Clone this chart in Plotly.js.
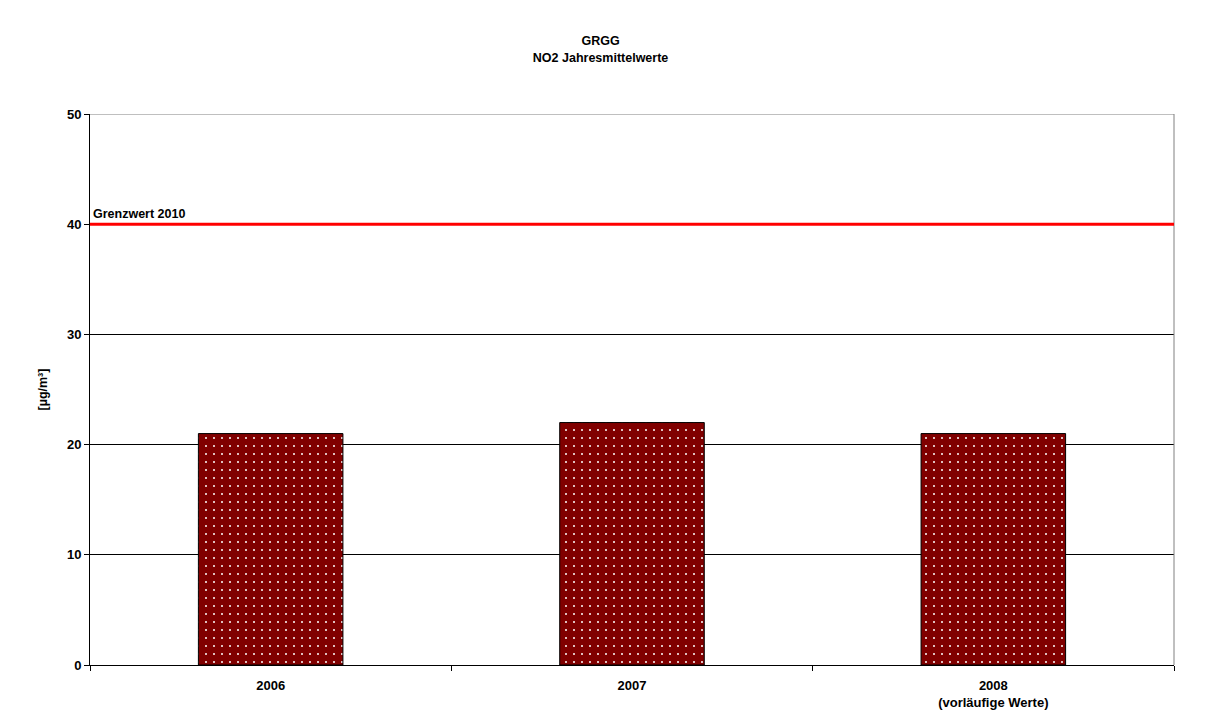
<!DOCTYPE html>
<html>
<head>
<meta charset="utf-8">
<script src="https://cdn.plot.ly/plotly-3.0.1.min.js"></script>
<style>html,body{margin:0;padding:0;background:#fff;}#chart{width:1210px;height:722px;}</style>
</head>
<body>
<div id="chart"></div>
<script>
const categories = ["2006", "2007", "2008<br>(vorläufige Werte)"];
const no2Values = [21, 22, 21];
const limitValue = 40;
const limitLabel = "Grenzwert 2010";
const yTicks = [0, 10, 20, 30, 40, 50];
const titleLines = ["GRGG", "NO2 Jahresmittelwerte"];
const yTitle = "[µg/m³]";

const fontFam = "Liberation Sans, Arial, sans-serif";

const data = [{
  type: "bar",
  x: categories,
  y: no2Values,
  width: 0.4,
  marker: {
    color: "#800000",
    line: {color: "#000", width: 1},
    pattern: {shape: ".", fgcolor: "#ffffff", bgcolor: "#800000", size: 8, solidity: 0.05}
  },
  hoverinfo: "none"
}];

const layout = {
  width: 1210, height: 722,
  margin: {l: 90, r: 36, t: 114, b: 57},
  paper_bgcolor: "#fff", plot_bgcolor: "#fff",
  showlegend: false,
  font: {family: fontFam, color: "#000", size: 13},
  title: {
    text: "<b>" + titleLines.join("<br>") + "</b>",
    x: 0.471, xref: "paper", xanchor: "center", y: 0.937, yanchor: "top",
    font: {family: fontFam, size: 12.5, color: "#000"}
  },
  xaxis: {
    type: "category",
    tickson: "boundaries",
    ticks: "outside", ticklen: 5, tickcolor: "#000",
    showline: true, linecolor: "#000", linewidth: 1,
    showgrid: false, zeroline: false,
    tickfont: {family: fontFam, size: 13, color: "#000", weight: "bold"},
    ticklabelstandoff: 8,
    range: [-0.5, 2.5]
  },
  yaxis: {
    range: [0, 50],
    tickvals: yTicks,
    ticks: "outside", ticklen: 5, tickcolor: "#000",
    showline: true, linecolor: "#000", linewidth: 1,
    showgrid: true, gridcolor: "#000", gridwidth: 1,
    zeroline: false,
    tickfont: {family: fontFam, size: 13, color: "#000", weight: "bold"},
    title: {text: "<b>" + yTitle + "</b>", font: {family: fontFam, size: 12.5, color: "#000"}, standoff: 16}
  },
  shapes: [
    {type: "line", xref: "paper", yref: "y", x0: 0, x1: 1, y0: 50, y1: 50, line: {color: "#808080", width: 1}},
    {type: "line", xref: "paper", yref: "paper", x0: 1, x1: 1, y0: 0, y1: 1, line: {color: "#808080", width: 1}},
    {type: "line", xref: "paper", yref: "y", x0: 0, x1: 1, y0: limitValue, y1: limitValue, line: {color: "#ff0000", width: 3}}
  ],
  annotations: [
    {xref: "paper", yref: "y", x: 0.001, y: limitValue, xanchor: "left", yanchor: "bottom", yshift: 1,
     text: "<b>" + limitLabel + "</b>", showarrow: false, font: {family: fontFam, size: 12.5, color: "#000"}}
  ]
};

Plotly.newPlot("chart", data, layout, {staticPlot: true, displayModeBar: false});
</script>
</body>
</html>
